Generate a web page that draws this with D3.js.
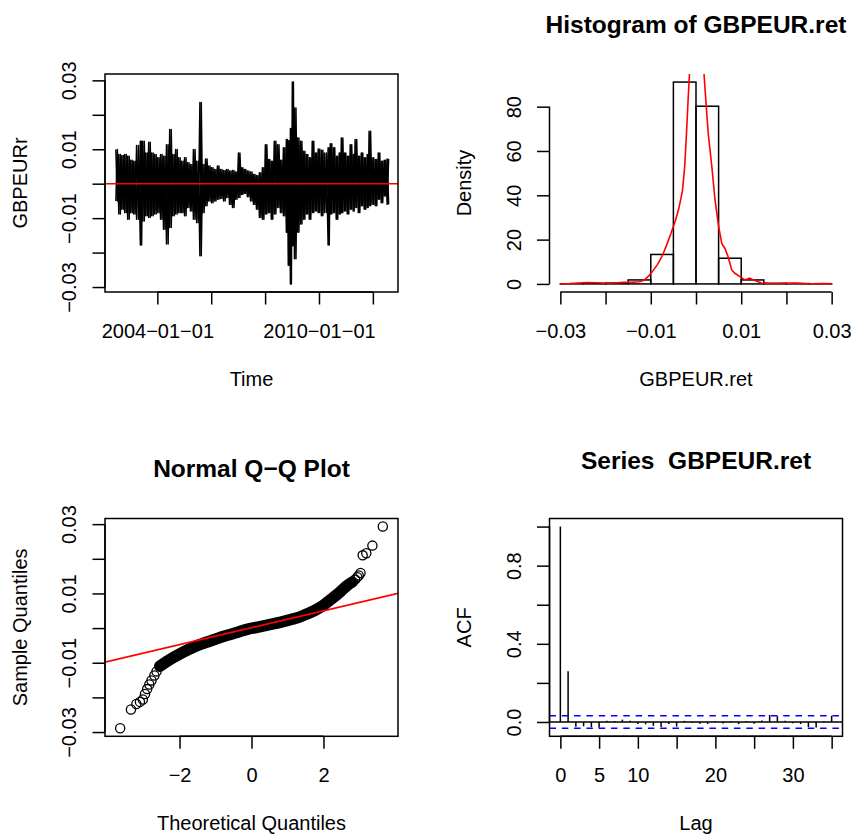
<!DOCTYPE html>
<html lang="en">
<head>
<script src="https://d3js.org/d3.v7.min.js"></script>
<style>
  body { margin: 0; background: #fff; }
  svg { display: block; background: #fff; font-family: "Liberation Sans", Arial, Helvetica, sans-serif; }
  .frame { fill: none; stroke: #000; stroke-width: 1.5px; }
  .axis text { font-size: 20px; fill: #000; }
  .axis line { stroke: #000; stroke-width: 1.5px; }
  .lab { font-size: 20px; fill: #000; }
  .main { font-size: 24.5px; font-weight: bold; fill: #000; white-space: pre; }
</style>
</head>
<body>
<svg id="chart" width="854" height="837"></svg>
<script>
// ---- time series (per-column high / low) ----
const tsYear = [2002.46, 2002.57, 2002.68, 2002.79, 2002.90, 2003.01, 2003.12, 2003.23, 2003.37, 2003.46,
  2003.57, 2003.68, 2003.79, 2003.90, 2004.01, 2004.12, 2004.23, 2004.34, 2004.46, 2004.57,
  2004.68, 2004.79, 2004.90, 2005.01, 2005.12, 2005.23, 2005.34, 2005.46, 2005.58, 2005.68,
  2005.79, 2005.90, 2006.01, 2006.12, 2006.23, 2006.34, 2006.46, 2006.57, 2006.68, 2006.79,
  2006.90, 2007.01, 2007.12, 2007.23, 2007.34, 2007.46, 2007.57, 2007.68, 2007.79, 2007.90,
  2008.01, 2008.12, 2008.23, 2008.34, 2008.46, 2008.57, 2008.68, 2008.79, 2008.86, 2008.94,
  2009.01, 2009.09, 2009.20, 2009.31, 2009.42, 2009.53, 2009.64, 2009.75, 2009.86, 2009.97,
  2010.09, 2010.20, 2010.34, 2010.42, 2010.53, 2010.64, 2010.75, 2010.83, 2010.94, 2011.05,
  2011.16, 2011.27, 2011.34, 2011.46, 2011.57, 2011.68, 2011.79, 2011.86, 2011.97, 2012.09,
  2012.20, 2012.31, 2012.42, 2012.53];
const tsHigh = [0.0099, 0.0085, 0.0082, 0.0085, 0.0080, 0.0068, 0.0065, 0.0111, 0.0123, 0.0123,
  0.0089, 0.0120, 0.0089, 0.0085, 0.0075, 0.0085, 0.0080, 0.0113, 0.0157, 0.0085,
  0.0099, 0.0075, 0.0065, 0.0075, 0.0061, 0.0056, 0.0099, 0.0065, 0.0236, 0.0056,
  0.0072, 0.0051, 0.0046, 0.0041, 0.0051, 0.0041, 0.0038, 0.0041, 0.0037, 0.0038,
  0.0034, 0.0089, 0.0046, 0.0041, 0.0037, 0.0034, 0.0027, 0.0024, 0.0032, 0.0046,
  0.0113, 0.0070, 0.0065, 0.0123, 0.0113, 0.0068, 0.0104, 0.0128, 0.0125, 0.0160,
  0.0295, 0.0220, 0.0133, 0.0123, 0.0094, 0.0085, 0.0075, 0.0123, 0.0089, 0.0101,
  0.0097, 0.0089, 0.0104, 0.0116, 0.0104, 0.0080, 0.0089, 0.0133, 0.0089, 0.0080,
  0.0113, 0.0085, 0.0128, 0.0080, 0.0089, 0.0075, 0.0085, 0.0152, 0.0075, 0.0070,
  0.0089, 0.0065, 0.0068, 0.0072];
const tsLow = [-0.0050, -0.0088, -0.0074, -0.0084, -0.0103, -0.0084, -0.0088, -0.0103, -0.0178, -0.0108,
  -0.0093, -0.0098, -0.0093, -0.0088, -0.0084, -0.0103, -0.0132, -0.0175, -0.0127, -0.0093,
  -0.0088, -0.0084, -0.0084, -0.0093, -0.0069, -0.0079, -0.0103, -0.0113, -0.0209, -0.0084,
  -0.0064, -0.0050, -0.0055, -0.0050, -0.0045, -0.0043, -0.0050, -0.0040, -0.0060, -0.0069,
  -0.0045, -0.0040, -0.0031, -0.0028, -0.0038, -0.0050, -0.0060, -0.0074, -0.0098, -0.0103,
  -0.0088, -0.0084, -0.0103, -0.0088, -0.0069, -0.0084, -0.0093, -0.0141, -0.0237, -0.0291,
  -0.0180, -0.0218, -0.0141, -0.0117, -0.0103, -0.0088, -0.0103, -0.0084, -0.0079, -0.0084,
  -0.0093, -0.0084, -0.0178, -0.0088, -0.0084, -0.0103, -0.0088, -0.0084, -0.0079, -0.0088,
  -0.0074, -0.0079, -0.0069, -0.0084, -0.0064, -0.0074, -0.0069, -0.0064, -0.0060, -0.0064,
  -0.0045, -0.0055, -0.0036, -0.0060];
const tsTicks = [2004, 2006, 2008, 2010, 2012];
const tsTickLabels = ["2004\u221201\u221201", "", "", "2010\u221201\u221201", ""];
const retTicks = [-0.03, -0.02, -0.01, 0, 0.01, 0.02, 0.03];
const retTickLabels = ["\u22120.03", "", "\u22120.01", "", "0.01", "", "0.03"];

// ---- histogram + kernel density ----
const histBreaks = [-0.03, -0.025, -0.02, -0.015, -0.01, -0.005, 0, 0.005, 0.01, 0.015, 0.02, 0.025, 0.03];
const histDensity = [0.08, 0.23, 0.4, 1.8, 13.3, 91.1, 80.2, 11.6, 1.8, 0.3, 0.15, 0.08];
const densX = [-0.030, -0.028, -0.026, -0.024, -0.022, -0.020, -0.018, -0.016, -0.014, -0.0125,
  -0.0115, -0.0105, -0.0095, -0.0085, -0.0075, -0.0065, -0.0055, -0.0045, -0.0038, -0.0030,
  -0.0025, -0.0021, -0.0017, -0.0013, -0.0008, 0.0000, 0.0008, 0.0015, 0.0020, 0.0027,
  0.0035, 0.0042, 0.0050, 0.0057, 0.0064, 0.0071, 0.0079, 0.0086, 0.0097, 0.0108,
  0.0119, 0.0130, 0.0145, 0.016, 0.018, 0.020, 0.022, 0.024, 0.026, 0.028, 0.030];
const densY = [0.1, 0.2, 0.4, 0.6, 0.5, 0.3, 0.4, 0.7, 0.8, 1.0,
  1.6, 3.5, 6.0, 8.8, 12.5, 17.5, 23, 29, 34, 42,
  53, 68, 85, 100, 120, 135, 122, 103, 88, 68,
  53, 38, 26, 18.3, 16, 12.3, 6.3, 4.8, 3.3, 1.8,
  2.6, 1.5, 0.4, 0.2, 0.1, 0.3, 0.4, 0.2, 0.1, 0.2, 0.1];
const densTicks = [0, 20, 40, 60, 80];
const densTickLabels = ["0", "20", "40", "60", "80"];

// ---- normal Q-Q ----
const qqBandTheo = [-2.55, -2.35, -2.16, -1.95, -1.71, -1.50, -1.26, -1.00, -0.81, -0.55, -0.36, -0.10,
  0.09, 0.41, 0.85, 1.10, 1.31, 1.55, 1.76, 2.00, 2.21, 2.48, 2.66, 2.80];
const qqBandSample = [-0.0110, -0.0096, -0.0084, -0.0072, -0.0060, -0.0050, -0.0041, -0.0032, -0.0025,
  -0.0017, -0.0011, -0.0003, 0.0001, 0.0008, 0.0018, 0.0025, 0.0031, 0.0041, 0.0051, 0.0066,
  0.0083, 0.0106, 0.0123, 0.0133];
const qqTailTheo = [-3.65, -3.35, -3.20, -3.10, -3.02, -2.96, -2.90, -2.84, -2.78, -2.70, -2.64,
  2.88, 2.94, 2.98, 3.03, 3.09, 3.19, 3.36, 3.65];
const qqTailSample = [-0.0289, -0.0235, -0.0219, -0.0213, -0.0206, -0.0190, -0.0176, -0.0163, -0.0151,
  -0.0137, -0.0125, 0.0140, 0.0147, 0.0152, 0.0159, 0.0210, 0.0216, 0.0238, 0.0293];
const qqXRange = [-3.77, 3.77];
const qqIntercept = 0.0001, qqSlope = 0.00244;
const qqTicks = [-2, 0, 2];
const qqTickLabels = ["\u22122", "0", "2"];

// ---- ACF ----
const acfLag = [0, 1, 2, 3, 4, 5, 6, 7, 8, 9, 10, 11, 12, 13, 14, 15, 16, 17,
  18, 19, 20, 21, 22, 23, 24, 25, 26, 27, 28, 29, 30, 31, 32, 33, 34, 35];
const acfValue = [1.000, 0.260, -0.024, -0.022, -0.027, -0.030, 0.006, 0.005, 0.012, 0.006,
  -0.010, -0.012, -0.020, -0.026, -0.010, -0.024, 0.006, -0.004, -0.009, -0.010,
  0.005, -0.008, 0.004, -0.011, 0.005, -0.009, 0.007, 0.036, 0.030, 0.006,
  -0.007, -0.010, -0.026, -0.028, 0.004, 0.032];
const acfClim = 0.032;
const lagTicks = [0, 5, 10, 15, 20, 25, 30, 35];
const lagTickLabels = ["0", "5", "10", "", "20", "", "30", ""];
const acfTicks = [0, 0.2, 0.4, 0.6, 0.8, 1.0];
const acfTickLabels = ["0.0", "", "0.4", "", "0.8", ""];

// ---- layout ----
const svg = d3.select("#chart");
const colX = [[105, 398], [549.5, 842.5]];
const rowY = [[74, 292], [518.5, 736.3]];
const ext = ([a, b]) => { const d = (b - a) * 0.04; return [a - d, b + d]; };

function clip(id, cx, ry) {
  svg.append("clipPath").attr("id", id).append("rect")
    .attr("x", cx[0]).attr("y", ry[0]).attr("width", cx[1] - cx[0]).attr("height", ry[1] - ry[0]);
}

function axis(scale, side, at, ticks, labels) {
  const gen = (side === "bottom" ? d3.axisBottom(scale) : d3.axisLeft(scale))
    .tickValues(ticks).tickFormat((d, i) => labels[i]).tickSize(12.5);
  const a = svg.append("g").attr("class", "axis")
    .attr("transform", side === "bottom" ? `translate(0,${at})` : `translate(${at},0)`)
    .call(gen);
  a.attr("font-size", null).attr("font-family", null);
  a.select(".domain").remove();
  const p0 = scale(ticks[0]), p1 = scale(ticks[ticks.length - 1]);
  if (side === "bottom") {
    a.append("line").attr("x1", p0).attr("x2", p1);
    a.selectAll(".tick text").attr("y", 45.5).attr("dy", null);
  } else {
    a.append("line").attr("y1", p0).attr("y2", p1);
    a.selectAll(".tick text").attr("x", 0).attr("y", -28.7).attr("dy", null)
      .attr("transform", "rotate(-90)").attr("text-anchor", "middle");
  }
}

function frame(cx, ry) {
  svg.append("rect").attr("class", "frame")
    .attr("x", cx[0]).attr("y", ry[0]).attr("width", cx[1] - cx[0]).attr("height", ry[1] - ry[0]);
}

function labels(cx, ry, xlab, ylab, main, mainOff) {
  const mx = (cx[0] + cx[1]) / 2, my = (ry[0] + ry[1]) / 2;
  svg.append("text").attr("class", "lab").attr("text-anchor", "middle")
    .attr("x", mx).attr("y", ry[1] + 93.7).text(xlab);
  svg.append("text").attr("class", "lab").attr("text-anchor", "middle")
    .attr("transform", `translate(${cx[0] - 78.5},${my}) rotate(-90)`).text(ylab);
  if (main) {
    svg.append("text").attr("class", "main").attr("text-anchor", "middle")
      .attr("x", mx).attr("y", ry[0] - mainOff).text(main);
  }
}

// ---- panel 1: time series ----
{
  const cx = colX[0], ry = rowY[0];
  const x = d3.scaleLinear().domain(ext(d3.extent(tsYear))).range(cx);
  const y = d3.scaleLinear().domain(ext([d3.min(tsLow), d3.max(tsHigh)])).range([ry[1], ry[0]]);
  clip("c1", cx, ry);
  // the daily series is drawn as a zig-zag between each column's extremes,
  // traced in both orders so the dense core closes up
  const half = i => (i < tsYear.length - 1 ? tsYear[i + 1] - tsYear[i] : tsYear[i] - tsYear[i - 1]) / 2;
  const upFirst = [], downFirst = [];
  tsYear.forEach((t, i) => {
    upFirst.push([t, tsHigh[i]], [t + half(i), tsLow[i]]);
    downFirst.push([t, tsLow[i]], [t + half(i), tsHigh[i]]);
  });
  const line = d3.line().x(d => x(d[0])).y(d => y(d[1]));
  svg.append("g").attr("clip-path", "url(#c1)").selectAll("path")
    .data([upFirst, downFirst]).join("path")
    .attr("fill", "none").attr("stroke", "#000").attr("stroke-width", 1.5)
    .attr("stroke-linejoin", "round")
    .attr("d", line);
  svg.append("line").attr("x1", cx[0]).attr("x2", cx[1]).attr("y1", y(0)).attr("y2", y(0))
    .attr("stroke", "#ff0000").attr("stroke-width", 1.6);
  axis(x, "bottom", ry[1], tsTicks, tsTickLabels);
  axis(y, "left", cx[0], retTicks, retTickLabels);
  frame(cx, ry);
  labels(cx, ry, "Time", "GBPEURr", null, 0);
}

// ---- panel 2: histogram ----
{
  const cx = colX[1], ry = rowY[0];
  const x = d3.scaleLinear().domain(ext([histBreaks[0], histBreaks[histBreaks.length - 1]])).range(cx);
  const y = d3.scaleLinear().domain(ext([0, d3.max(histDensity)])).range([ry[1], ry[0]]);
  clip("c2", cx, ry);
  svg.append("g").selectAll("rect").data(histDensity).join("rect")
    .attr("x", (d, i) => x(histBreaks[i]))
    .attr("width", (d, i) => x(histBreaks[i + 1]) - x(histBreaks[i]))
    .attr("y", d => y(d)).attr("height", d => y(0) - y(d))
    .attr("fill", "none").attr("stroke", "#000").attr("stroke-width", 1.5);
  svg.append("path").datum(densX.map((v, i) => [v, densY[i]]))
    .attr("clip-path", "url(#c2)")
    .attr("fill", "none").attr("stroke", "#ff0000").attr("stroke-width", 1.6)
    .attr("d", d3.line().x(d => x(d[0])).y(d => y(d[1])));
  axis(x, "bottom", ry[1], retTicks, retTickLabels);
  axis(y, "left", cx[0], densTicks, densTickLabels);
  labels(cx, ry, "GBPEUR.ret", "Density", "Histogram of GBPEUR.ret", 41.5);
}

// ---- panel 3: normal Q-Q ----
{
  const cx = colX[0], ry = rowY[1];
  const x = d3.scaleLinear().domain(ext(qqXRange)).range(cx);
  const y = d3.scaleLinear().domain(ext(d3.extent(qqTailSample))).range([ry[1], ry[0]]);
  clip("c3", cx, ry);
  const band = qqBandTheo.map((q, i) => [q, qqBandSample[i]]);
  const tail = qqTailTheo.map((q, i) => [q, qqTailSample[i]]);
  svg.append("path").datum(band)
    .attr("fill", "none").attr("stroke", "#000").attr("stroke-width", 11.5)
    .attr("stroke-linecap", "round").attr("stroke-linejoin", "round")
    .attr("d", d3.line().curve(d3.curveMonotoneX).x(d => x(d[0])).y(d => y(d[1])));
  svg.append("g").selectAll("circle").data(band.concat(tail)).join("circle")
    .attr("cx", d => x(d[0])).attr("cy", d => y(d[1])).attr("r", 4.6)
    .attr("fill", "none").attr("stroke", "#000").attr("stroke-width", 1.3);
  const xd = x.domain();
  svg.append("line").attr("clip-path", "url(#c3)")
    .attr("x1", x(xd[0])).attr("y1", y(qqIntercept + qqSlope * xd[0]))
    .attr("x2", x(xd[1])).attr("y2", y(qqIntercept + qqSlope * xd[1]))
    .attr("stroke", "#ff0000").attr("stroke-width", 1.6);
  axis(x, "bottom", ry[1], qqTicks, qqTickLabels);
  axis(y, "left", cx[0], retTicks, retTickLabels);
  frame(cx, ry);
  labels(cx, ry, "Theoretical Quantiles", "Sample Quantiles", "Normal Q\u2212Q Plot", 41.5);
}

// ---- panel 4: ACF ----
{
  const cx = colX[1], ry = rowY[1];
  const x = d3.scaleLinear().domain(ext([acfLag[0], acfLag[acfLag.length - 1]])).range(cx);
  const y = d3.scaleLinear()
    .domain(ext([Math.min(d3.min(acfValue), -acfClim), Math.max(d3.max(acfValue), acfClim)]))
    .range([ry[1], ry[0]]);
  svg.append("g").selectAll("line").data(acfValue).join("line")
    .attr("x1", (d, i) => x(acfLag[i])).attr("x2", (d, i) => x(acfLag[i]))
    .attr("y1", y(0)).attr("y2", d => y(d))
    .attr("stroke", "#000").attr("stroke-width", 1.5);
  svg.append("line").attr("x1", cx[0]).attr("x2", cx[1]).attr("y1", y(0)).attr("y2", y(0))
    .attr("stroke", "#000").attr("stroke-width", 1.5);
  svg.append("g").selectAll("line").data([acfClim, -acfClim]).join("line")
    .attr("x1", cx[0]).attr("x2", cx[1]).attr("y1", d => y(d)).attr("y2", d => y(d))
    .attr("stroke", "#0000ff").attr("stroke-width", 1.5).attr("stroke-dasharray", "6.5,5.8");
  axis(x, "bottom", ry[1], lagTicks, lagTickLabels);
  axis(y, "left", cx[0], acfTicks, acfTickLabels);
  frame(cx, ry);
  labels(cx, ry, "Lag", "ACF", "Series  GBPEUR.ret", 49.6);
}
</script>
</body>
</html>
